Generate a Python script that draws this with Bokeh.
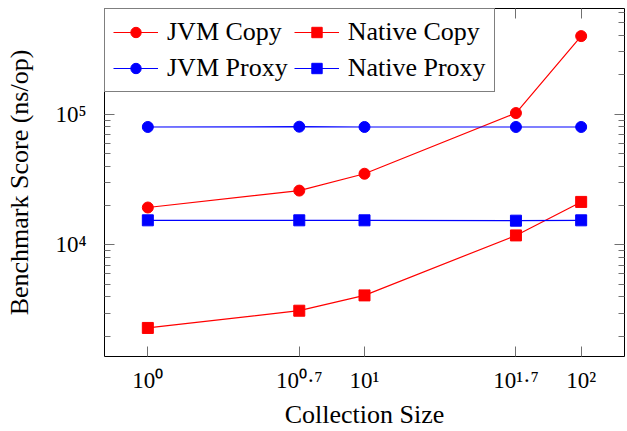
from bokeh.plotting import figure
from bokeh.models import (Range1d, FixedTicker, CustomJSTickFormatter, LogAxis,
                          Legend, LegendItem)
from bokeh.embed import file_html
from bokeh.resources import INLINE

# ---- data ----
sizes = [1, 5, 10, 50, 100]
x_tick_exps = ["0", "0.7", "1", "1.7", "2"]
y_tick_values = [10000, 100000]
y_tick_exps = ["4", "5"]
jvm_copy = [19300, 26000, 35000, 102000, 396000]
native_copy = [2310, 3130, 4100, 11800, 21300]
jvm_proxy = [79800, 80200, 79800, 79800, 79800]
native_proxy = [15400, 15400, 15400, 15300, 15400]
series_names = ["JVM Copy", "Native Copy", "JVM Proxy", "Native Proxy"]

FONT = "Liberation Serif"
TEXT_SIZE = "26px"
TICK_LABEL_SIZE = "23px"
TICK = "#707070"
W, H = 627, 431
SUP = {"0": "⁰", "1": "¹", "2": "²", "3": "³", "4": "⁴", "5": "⁵",
       "6": "⁶", "7": "⁷", "8": "⁸", "9": "⁹", ".": "·"}


def pow_label(e):
    return "10" + "".join(SUP[c] for c in e)


p = figure(width=W, height=H, x_axis_type="log", y_axis_type="log",
           x_range=Range1d(10 ** -0.2, 10 ** 2.2),
           y_range=Range1d(10 ** 3.145, 10 ** 5.809),
           output_backend="svg", toolbar_location=None,
           min_border_left=104, min_border_right=3,
           min_border_top=8, min_border_bottom=74)
p.grid.visible = False
p.outline_line_color = "black"
p.outline_line_width = 1
p.background_fill_color = "white"
p.border_fill_color = "white"

bottom_ax = p.xaxis[0]
left_ax = p.yaxis[0]

xt = FixedTicker(ticks=sizes, minor_ticks=[])
yt = FixedTicker(ticks=y_tick_values,
                 minor_ticks=[m * 10 ** k for k in (3, 4, 5) for m in range(2, 10)])


def style(ax, ticker, major_len, minor_len):
    ax.ticker = ticker
    ax.axis_line_color = None
    ax.major_tick_in = major_len
    ax.major_tick_out = 0
    ax.minor_tick_in = minor_len
    ax.minor_tick_out = 0
    ax.major_tick_line_color = TICK
    ax.minor_tick_line_color = TICK


def hide_labels(ax):
    ax.formatter = CustomJSTickFormatter(code="return ''")
    ax.major_label_text_font_size = "0px"
    ax.major_label_standoff = 0


style(bottom_ax, xt, 10, 0)
style(left_ax, yt, 10, 6)
top_ax = LogAxis()
style(top_ax, xt, 10, 0)
hide_labels(top_ax)
right_ax = LogAxis()
style(right_ax, yt, 10, 6)
hide_labels(right_ax)
p.add_layout(top_ax, "above")
p.add_layout(right_ax, "right")

bottom_ax.major_label_overrides = {int(v): pow_label(e) for v, e in zip(sizes, x_tick_exps)}
left_ax.major_label_overrides = {int(v): pow_label(e) for v, e in zip(y_tick_values, y_tick_exps)}
for ax, standoff in ((bottom_ax, 11), (left_ax, 18)):
    ax.major_label_text_font = FONT
    ax.major_label_text_font_size = TICK_LABEL_SIZE
    ax.major_label_text_color = "black"
    ax.major_label_standoff = standoff

for ax, title, standoff in ((bottom_ax, "Collection Size", 4),
                            (left_ax, "Benchmark Score (ns/op)", 18)):
    ax.axis_label = title
    ax.axis_label_text_font = FONT
    ax.axis_label_text_font_size = TEXT_SIZE
    ax.axis_label_text_font_style = "normal"
    ax.axis_label_text_color = "black"
    ax.axis_label_standoff = standoff

series = [(jvm_copy, "red", "circle"), (native_copy, "red", "square"),
          (jvm_proxy, "blue", "circle"), (native_proxy, "blue", "square")]
items = []
for name, (ys, color, marker) in zip(series_names, series):
    rl = p.line(sizes, ys, line_color=color, line_width=1.2)
    rm = p.scatter(sizes, ys, marker=marker, size=11, fill_color=color, line_color=color)
    items.append(LegendItem(label=name, renderers=[rl, rm]))

legend = Legend(items=items, location="top_left", orientation="horizontal", ncols=2,
                label_text_font=FONT, label_text_font_size=TEXT_SIZE,
                label_text_color="black", glyph_width=45, glyph_height=26,
                label_height=26, label_standoff=9, spacing=6, padding=8, margin=0,
                border_line_color="black", border_line_width=1,
                background_fill_color="white", background_fill_alpha=1)
p.add_layout(legend)

open("out.html", "w").write(file_html(p, INLINE))
